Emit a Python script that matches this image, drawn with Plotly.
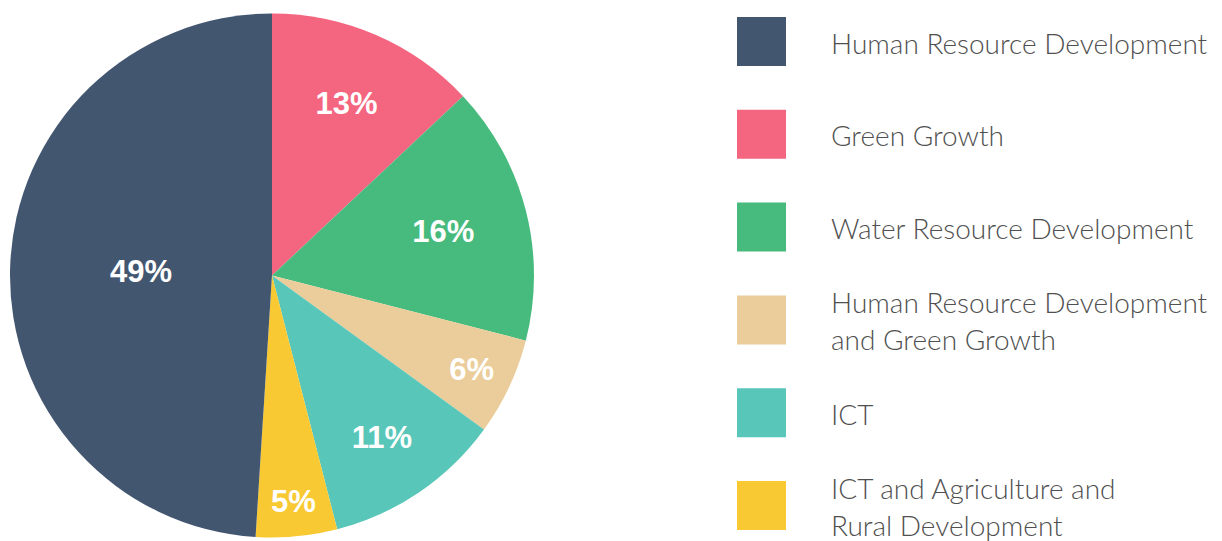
import plotly.graph_objects as go

# Data (legend order)
categories = [
    "Human Resource Development",
    "Green Growth",
    "Water Resource Development",
    "Human Resource Development<br>and Green Growth",
    "ICT",
    "ICT and Agriculture and<br>Rural Development",
]
values = [49, 13, 16, 6, 11, 5]
colors = ["#435670", "#F4657F", "#47BA7D", "#EACD9A", "#58C6B8", "#F8C933"]

# pie is drawn clockwise from 12 o'clock starting with the 2nd category
order = [1, 2, 3, 4, 5, 0]

W, H = 1222, 541
OFF = 8  # page body margin


def px(x):
    return (x - OFF) / W


def py(y):
    return 1 - (y - OFF) / H


fig = go.Figure()
fig.add_trace(go.Pie(
    labels=[categories[i] for i in order],
    values=[values[i] for i in order],
    marker=dict(colors=[colors[i] for i in order], line=dict(width=0)),
    sort=False,
    direction="clockwise",
    rotation=0,
    texttemplate="%{percent:.0%}",
    textposition="inside",
    insidetextorientation="horizontal",
    textfont=dict(family="Liberation Sans, Arial, sans-serif", size=31, color="white", weight="bold"),
    hoverinfo="label+percent",
    domain=dict(x=[px(10), px(534)], y=[py(537.5), py(13.5)]),
    showlegend=False,
))

# custom legend
shapes = []
annotations = []
sq_top0 = 17
step = 92.8
sq = 49
line_gap = 37
for k, (cat, col) in enumerate(zip(categories, colors)):
    top = sq_top0 + k * step
    shapes.append(dict(
        type="rect", xref="paper", yref="paper",
        x0=px(737), x1=px(737 + sq),
        y0=py(top + sq), y1=py(top),
        fillcolor=col, line=dict(width=0),
    ))
    lines = cat.split("<br>")
    cy = top + sq / 2 + 1
    n = len(lines)
    for j, ln in enumerate(lines):
        y = cy + (j - (n - 1) / 2) * line_gap
        annotations.append(dict(
            text=ln, xref="paper", yref="paper",
            x=px(829), y=py(y), xanchor="left", yanchor="middle",
            showarrow=False,
            font=dict(family="Lato, Open Sans, sans-serif", size=28, color="#505050", weight=300),
        ))

fig.update_layout(
    width=W, height=H,
    margin=dict(l=0, r=0, t=0, b=0),
    paper_bgcolor="white", plot_bgcolor="white",
    shapes=shapes, annotations=annotations,
    showlegend=False,
)

fig.write_html("out.html")
